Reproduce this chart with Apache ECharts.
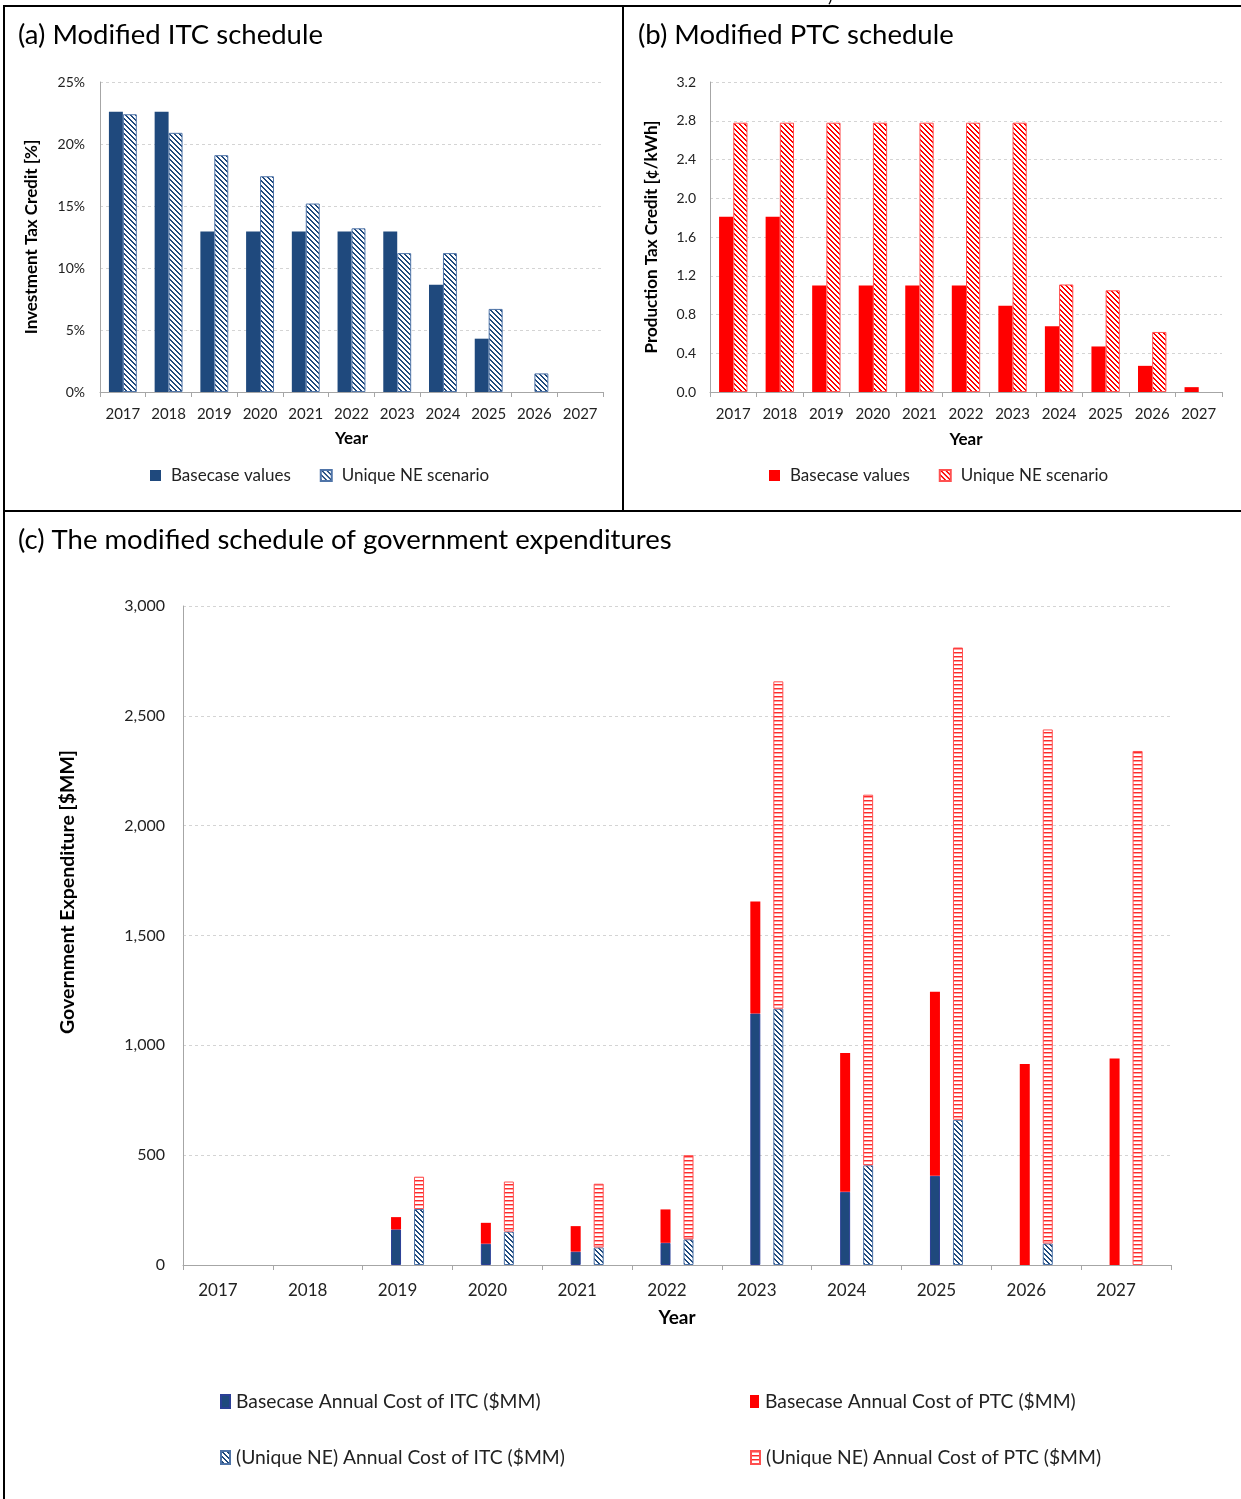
<!DOCTYPE html>
<html>
<head>
<meta charset="utf-8">
<script src="https://cdn.jsdelivr.net/npm/echarts@6/dist/echarts.min.js"></script>
<style>
  html, body { margin: 0; padding: 0; background: #fff; }
  #page { position: relative; width: 1241px; height: 1499px; overflow: hidden; background: #fff; }
  .chart { position: absolute; left: 0; top: 0; width: 1241px; height: 1499px; }
  .rule { position: absolute; background: #000; }
</style>
</head>
<body>
<div id="page">
  <div class="rule" style="left:3px; top:5px; width:1238px; height:2px;"></div>
  <div class="rule" style="left:3px; top:5px; width:2px; height:1494px;"></div>
  <div class="rule" style="left:622px; top:5px; width:2px; height:507px;"></div>
  <div class="rule" style="left:3px; top:510px; width:1238px; height:2px;"></div>
  <div id="chartA" class="chart"></div>
  <div id="chartB" class="chart"></div>
  <div id="chartC" class="chart"></div>
</div>
<script>
// ---- data ----
const years = ['2017','2018','2019','2020','2021','2022','2023','2024','2025','2026','2027'];

// (a) investment tax credit, %
const itcBase   = [22.6, 22.6, 12.95, 12.95, 12.95, 12.95, 12.95, 8.65, 4.3, 0, 0];
const itcUnique = [22.4, 20.9, 19.1, 17.4, 15.2, 13.2, 11.2, 11.2, 6.7, 1.5, 0];

// (b) production tax credit, cents/kWh
const ptcBase   = [1.81, 1.81, 1.10, 1.10, 1.10, 1.10, 0.89, 0.68, 0.47, 0.27, 0.05];
const ptcUnique = [2.78, 2.78, 2.78, 2.78, 2.78, 2.78, 2.78, 1.11, 1.05, 0.62, 0];

// (c) annual government expenditure, $MM
const costItcBase   = [0, 0, 162, 97, 61, 101, 1145, 333, 406, 0, 0];
const costPtcBase   = [0, 0, 56, 95, 116, 152, 510, 632, 838, 915, 940];
const costItcUnique = [0, 0, 255, 152, 80, 117, 1167, 454, 661, 98, 0];
const costPtcUnique = [0, 0, 147, 228, 290, 383, 1490, 1687, 2150, 2340, 2340];

// zero entries are left empty so outlined bars don't leave a hairline on the axis
const bars = arr => arr.map(v => (v === 0 ? '-' : v));

// ---- styling ----
const FONT = 'Lato, "Open Sans", sans-serif';
const BLUE = '#1f497d';
const RED = '#ff0000';
const GRID_LINE = { show: true, lineStyle: { color: '#d4d4d4', type: [3, 3], width: 1 } };
const AXIS_LINE = { show: true, lineStyle: { color: '#a6a6a6', width: 1 } };

// tile patterns used as bar fills
function tile(n, paint) {
  const c = document.createElement('canvas');
  c.width = n; c.height = n;
  const ctx = c.getContext('2d');
  ctx.fillStyle = '#ffffff';
  ctx.fillRect(0, 0, n, n);
  for (let y = 0; y < n; y++) {
    for (let x = 0; x < n; x++) {
      const col = paint(x, y);
      if (col) { ctx.fillStyle = col; ctx.fillRect(x, y, 1, 1); }
    }
  }
  return c;
}
const diag = (color, n, w) => tile(n, (x, y) => ((((x - y) % n) + n) % n) < w ? color : null);
const blueHatch = { image: diag(BLUE, 5, 2), repeat: 'repeat' };
const redHatch = { image: diag(RED, 5, 2), repeat: 'repeat' };
const redLines = { image: tile(4, (x, y) => y === 0 ? '#ff2a2a' : (y === 1 ? '#ff9d9d' : null)), repeat: 'repeat' };

function panelTitle(text, left, top) {
  return { text: text, left: left, top: top,
    textStyle: { fontFamily: FONT, fontSize: 27.5, fontWeight: 'normal', color: '#000' } };
}

function categoryAxis(fontSize, nameSize, nameGap, labelMargin, labelPad) {
  return {
    type: 'category', data: years, boundaryGap: true,
    name: 'Year', nameLocation: 'middle', nameGap: nameGap,
    nameTextStyle: { fontFamily: FONT, fontSize: nameSize, fontWeight: 'bold', color: '#000' },
    axisLine: AXIS_LINE,
    axisTick: { show: true, alignWithLabel: false, length: 5, lineStyle: { color: '#a6a6a6' } },
    axisLabel: { fontFamily: FONT, fontSize: fontSize, color: '#222', margin: labelMargin, interval: 0,
                 padding: labelPad || 0 },
    splitLine: { show: false }
  };
}

function valueAxis(min, max, interval, fmt, name, nameGap, fontSize, nameSize, margin) {
  return {
    type: 'value', min: min, max: max, interval: interval,
    name: name, nameLocation: 'middle', nameGap: nameGap, nameRotate: 90,
    nameTextStyle: { fontFamily: FONT, fontSize: nameSize, fontWeight: 'bold', color: '#000' },
    axisLine: AXIS_LINE, axisTick: { show: false },
    axisLabel: { fontFamily: FONT, fontSize: fontSize, color: '#222', margin: margin, formatter: fmt },
    splitLine: GRID_LINE
  };
}

function pairLegend(left) {
  return {
    left: left, top: 462, itemWidth: 11, itemHeight: 11, itemGap: 29, icon: 'rect',
    textStyle: { fontFamily: FONT, fontSize: 17, color: '#222', padding: [0, 0, 0, 5] },
    data: ['Basecase values', 'Unique NE scenario']
  };
}

// ---- (a) Modified ITC schedule ----
const chartA = echarts.init(document.getElementById('chartA'), null, { renderer: 'canvas' });
chartA.setOption({
  animation: false,
  title: panelTitle('(a) Modified ITC schedule', 13, 16),
  graphic: [{
    type: 'text', x: 828, y: -13,
    style: { text: ')', fontFamily: FONT, fontSize: 18, fill: '#000' }
  }],
  grid: { left: 100, top: 82, width: 503, height: 310 },
  xAxis: categoryAxis(15, 17, 38, 15),
  yAxis: valueAxis(0, 25, 5, v => v + '%', 'Investment Tax Credit [%]', 60, 14, 17, 15),
  legend: pairLegend(145),
  series: [
    { name: 'Basecase values', type: 'bar', data: bars(itcBase), barGap: '0%', barCategoryGap: '39%',
      itemStyle: { color: BLUE } },
    { name: 'Unique NE scenario', type: 'bar', data: bars(itcUnique),
      itemStyle: { color: blueHatch, borderColor: '#4f74a8', borderWidth: 1 } }
  ]
});

// ---- (b) Modified PTC schedule ----
const chartB = echarts.init(document.getElementById('chartB'), null, { renderer: 'canvas' });
chartB.setOption({
  animation: false,
  title: panelTitle('(b) Modified PTC schedule', 633, 16),
  grid: { left: 710, top: 82, width: 512, height: 310 },
  xAxis: categoryAxis(15, 17, 39, 15),
  yAxis: valueAxis(0, 3.2, 0.4, v => v.toFixed(1), 'Production Tax Credit [¢/kWh]', 50, 14, 17, 14),
  legend: pairLegend(764),
  series: [
    { name: 'Basecase values', type: 'bar', data: bars(ptcBase), barGap: '0%', barCategoryGap: '39%',
      itemStyle: { color: RED } },
    { name: 'Unique NE scenario', type: 'bar', data: bars(ptcUnique),
      itemStyle: { color: redHatch, borderColor: '#ff5050', borderWidth: 1 } }
  ]
});

// ---- (c) Government expenditures ----
const NAME_ITC_BASE = 'Basecase Annual Cost of ITC ($MM)';
const NAME_PTC_BASE = 'Basecase Annual Cost of PTC ($MM)';
const NAME_ITC_NE = '(Unique NE) Annual Cost of ITC ($MM)';
const NAME_PTC_NE = '(Unique NE) Annual Cost of PTC ($MM)';

function legendAt(name, left, top) {
  return {
    left: left, top: top, itemWidth: 9, itemHeight: 13, icon: 'rect', itemGap: 0,
    textStyle: { fontFamily: FONT, fontSize: 19.3, color: '#222', padding: [0, 0, 0, 1] },
    data: [name]
  };
}

const chartC = echarts.init(document.getElementById('chartC'), null, { renderer: 'canvas' });
chartC.setOption({
  animation: false,
  title: panelTitle('(c) The modified schedule of government expenditures', 13, 521),
  grid: { left: 183, top: 606, width: 988, height: 659 },
  xAxis: categoryAxis(17, 19, 43, 17, [0, 20, 0, 0]),
  yAxis: valueAxis(0, 3000, 500, v => v.toLocaleString('en-US'), '', 0, 16, 19, 18),
  graphic: [{
    type: 'text', x: 68, y: 892, rotation: Math.PI / 2,
    style: { text: 'Government Expenditure [$MM]', fontFamily: FONT, fontSize: 19.5, fontWeight: 'bold',
             fill: '#000', align: 'center', verticalAlign: 'middle' }
  }],
  legend: [
    legendAt(NAME_ITC_BASE, 215, 1387),
    legendAt(NAME_PTC_BASE, 745, 1387),
    legendAt(NAME_ITC_NE, 215, 1443),
    legendAt(NAME_PTC_NE, 745, 1443)
  ],
  series: [
    { name: NAME_ITC_BASE, type: 'bar', stack: 'base', data: bars(costItcBase), barWidth: 10, barGap: '130%',
      itemStyle: { color: BLUE, borderColor: '#2b3f96', borderWidth: 1 } },
    { name: NAME_PTC_BASE, type: 'bar', stack: 'base', data: bars(costPtcBase), barWidth: 10,
      itemStyle: { color: RED } },
    { name: NAME_ITC_NE, type: 'bar', stack: 'ne', data: bars(costItcUnique), barWidth: 10,
      itemStyle: { color: blueHatch, borderColor: '#4f74a8', borderWidth: 1 } },
    { name: NAME_PTC_NE, type: 'bar', stack: 'ne', data: bars(costPtcUnique), barWidth: 10,
      itemStyle: { color: redLines, borderColor: '#ff5050', borderWidth: 1 } }
  ]
});
</script>
</body>
</html>
